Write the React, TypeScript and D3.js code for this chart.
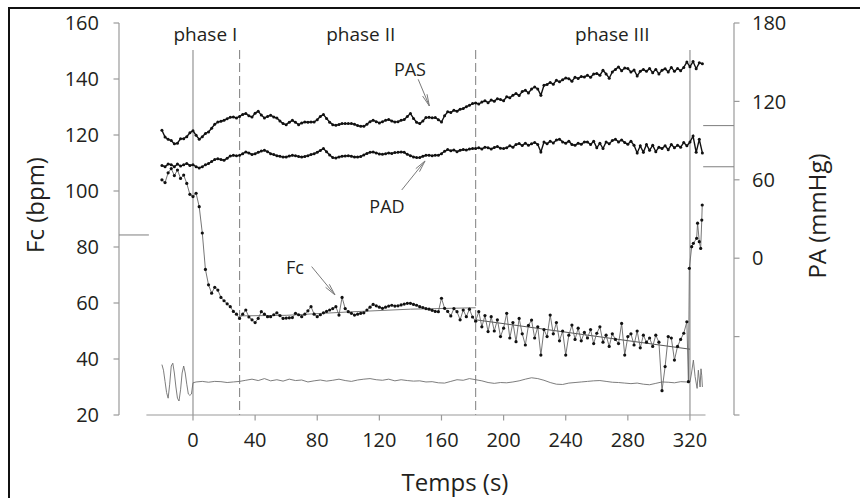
import React from 'react';
import * as d3 from 'd3';

// ---------- data ----------
const T_START = -20;
const T_STEP = 2;

// PAS (mmHg), sampled every 2 s from t = -20 s
const PAS = [
  97.9, 92.8, 91, 90, 87.5, 88, 91.5, 91.5, 93, 96,
  97.5, 94, 91, 93, 95.5, 96.6, 99.5, 102.5, 104.2, 104.8,
  105.5, 106.8, 107.8, 108, 107.3, 108.5, 110, 110.7, 109, 108,
  111, 112.4, 109.5, 107.3, 108.5, 109.4, 108, 107.3, 105, 103,
  102.2, 104, 105.5, 104, 102.2, 103.5, 104.2, 104, 104.2, 104.2,
  106, 108.5, 109.9, 107, 104, 102.2, 101.7, 102.3, 103, 103,
  103, 103, 102.5, 101.5, 101, 101, 102.5, 104.5, 105.5, 104.5,
  103.5, 104.5, 105.5, 106.1, 105, 104.2, 104.5, 105.5, 106.1, 108.5,
  110.7, 107, 104, 103, 105, 107.6, 107.8, 107.4, 107.6, 106,
  104.2, 109, 112, 111.5, 113.2, 112.5, 114, 114.5, 116, 117,
  118.3, 118.8, 118, 119.5, 120.5, 119, 121, 120.2, 122, 121.4,
  120.5, 123.5, 122.8, 124.7, 126, 124.5, 127.5, 128.5, 126.5, 129.5,
  131, 129.5, 124.7, 132.3, 133, 134.5, 133.2, 136.1, 135, 136.5,
  138, 137.4, 135.5, 138.5, 137.5, 139, 138.7, 140, 138.5, 141,
  141.3, 140, 143.8, 141, 137.7, 142.5, 144.5, 146.3, 143.5, 145.5,
  145.1, 142.5, 144, 139.5, 143, 144.5, 143, 145.1, 142, 144.5,
  141, 143.8, 145, 142.5, 146, 143, 145.1, 143.5, 146, 150.1,
  146.5, 150.5, 145, 149.5, 148.9,
];

// PAD (mmHg), sampled every 2 s from t = -20 s
const PAD = [
  71, 70, 72, 71.5, 70, 72, 70.5, 71.5, 72.5, 71,
  71.5, 70, 69, 70, 71.5, 72.4, 74, 75.5, 76.2, 75.5,
  74.9, 76.5, 78.2, 78.7, 78.5, 78.7, 80, 81.3, 80.5, 79.3,
  80, 81, 82, 82.6, 81.5, 80, 79.3, 78.5, 78, 77.4,
  77.5, 78.2, 78.7, 78.5, 77.8, 77.4, 77.8, 78.5, 79.3, 80,
  81, 82.5, 83.9, 81.5, 79, 77, 76.7, 77.5, 78, 78.2,
  78.5, 78, 77.5, 77.4, 77.8, 79, 80.2, 81, 81.3, 80.5,
  79.8, 79.5, 80, 80.5, 80.2, 80.8, 81, 81.3, 81, 79.5,
  78.5, 77.5, 77, 77, 78, 78.7, 78.8, 78.5, 78.8, 78.7,
  80, 81.8, 83.1, 82.2, 82.8, 81.5, 82.6, 83.2, 82.8, 83.5,
  84, 83.9, 84.5, 83.6, 85, 84.6, 83.5, 84.8, 85.5, 84.2,
  83.9, 84.5, 86, 85, 87, 87.7, 86.2, 88, 86.4, 87.5,
  88.6, 87, 81.3, 88.9, 87.5, 89.5, 88.2, 90.5, 91, 89,
  88, 89.5, 87, 86.4, 88, 87.2, 89, 88.9, 87, 89.5,
  84.5, 88, 83.9, 89, 87.5, 90, 91, 89, 90.5, 88.5,
  87.2, 89.5, 86.4, 80.5, 86, 81, 87, 82.6, 86.5, 81.5,
  85, 83.9, 86, 83, 87, 84.5, 86.4, 85, 88.5, 86,
  88.9, 93.5, 81, 91, 80.5,
];

// Fc (bpm), sampled every 2 s from t = -20 s to 318 s
const FC = [
  104, 103, 106.5, 108, 105.5, 107.5, 104.5, 105.7, 102.7, 98.8,
  98, 99.2, 94.4, 85, 72, 66.5, 63.5, 65.6, 64.6, 62,
  60.8, 59.7, 58.7, 57, 56, 54.5, 56, 57.5, 55, 54,
  53, 54.5, 56.9, 56, 55.1, 55.1, 55.8, 56.5, 55.5, 54.5,
  54.6, 54.7, 54.8, 56.3, 55.8, 55.1, 56, 57.2, 58.7, 56,
  55.1, 55.8, 56.5, 57, 57.5, 58, 58.7, 55.7, 62, 58,
  56.9, 56.3, 55.7, 56, 56.3, 56.5, 57.5, 58.5, 59.5, 59,
  58.5, 58.1, 58.5, 58.9, 59.2, 58.9, 59, 59.3, 59.6, 59.9,
  59.9, 59.5, 59.2, 58.7, 58.4, 58, 57.8, 57.4, 57, 56.9,
  61.7, 58.1, 57, 55.4, 58, 56.9, 54, 57.5, 55.1, 57.8,
  55, 53.5, 56.9, 51.5, 55.5, 49.8, 55.1, 50, 54, 48,
  51, 56.3, 47.5, 53, 46.2, 54.5, 49, 45, 52, 53.9,
  47.5, 51.5, 41.4, 50.5, 48, 55.7, 49, 53, 46.5, 50,
  41.4, 48.5, 52.1, 47, 51, 46.5, 49.5, 47.5, 50.5, 45.5,
  49.2, 51.5, 46, 48.5, 44.5, 49, 47, 45.5, 52.7, 41.4,
  48, 49, 45, 50, 44, 48.5, 46, 47.5, 44.5, 48.5,
  46, 28.7, 37.3, 48, 47.5, 39.6, 44.5, 47, 49.2, 53.3,
];
// Fc after the end of phase III (denser recording)
const FC_TAIL_T = [319, 319.6, 321.1, 322.2, 324.3, 324.9, 326, 326.9, 327.6, 327.9];
const FC_TAIL_V = [31.9, 72.4, 80.1, 81.3, 83.1, 88.5, 81.9, 79.5, 89.6, 95];

// Fc trend lines (phase II and phase III)
const TREND_II_T = [30, 60, 100, 140, 182];
const TREND_II_V = [55.4, 55.6, 56.8, 57.8, 58.3];
const TREND_III_T = [182, 320];
const TREND_III_V = [54, 43.5];

// Thin grey trace (plotted on the Fc scale)
const RESP_HEAD_START = -20;
const RESP_HEAD_STEP = 1;
const RESP_HEAD = [
  38, 36, 32, 28, 26, 31, 37.5, 38.5, 35, 30,
  26, 25, 29, 35, 37.5, 35, 31, 27.5, 27, 27.5, 31.5,
];
const RESP_MAIN_START = 2;
const RESP_MAIN_STEP = 4;
const RESP_MAIN = [
  31.8, 32, 31.7, 32, 31.9, 31.6, 31.8, 32, 32.4, 32.8,
  32.3, 33, 32.2, 32.6, 32.1, 32.8, 32.3, 32.5, 31.8, 32.2,
  32.5, 32.1, 32.4, 32.8, 32.3, 32, 32.5, 32.8, 33, 32.6,
  32.4, 32.8, 32.2, 32.6, 32.3, 32.1, 32.2, 31.8, 31.9, 31.5,
  31.4, 32, 32.6, 32.4, 33, 32.6, 32.2, 31.6, 31.3, 31.6,
  31.5, 31.8, 32.2, 32.8, 33.3, 33, 32.4, 31.6, 31, 30.9,
  31.4, 31.6, 31.8, 32, 32.2, 32.3, 32, 31.7, 31.6, 31.4,
  31.2, 31.4, 31, 30.8, 31.3, 31.8, 31.7, 31.5, 31.9, 31.8,
];
const RESP_TAIL_T = [320, 321, 322.2, 323.3, 324.6, 325.4, 326.5, 327.1, 327.6, 328];
const RESP_TAIL_V = [31.8, 35, 39.6, 33.7, 29.5, 36, 30, 36.5, 34, 30];

// Phase boundaries
const PHASE_SOLID = [0, 320];
const PHASE_DASHED = [30, 182];
const PHASE_LABELS = ['phase I', 'phase II', 'phase III'];
const PHASE_LABEL_T = [8, 108, 270];

// Reference levels
const FC_REF = 84.3;
const PA_REFS = [101.5, 70];

// Axes
const TIME_DOMAIN = [-30, 330];
const FC_DOMAIN = [20, 160];
const PA_DOMAIN = [-120, 180];
const TIME_TICKS = [0, 40, 80, 120, 160, 200, 240, 280, 320];
const FC_TICKS = [20, 40, 60, 80, 100, 120, 140, 160];
const PA_TICKS = [-120, -60, 0, 60, 120, 180];
const PA_TICK_LABELS = [0, 60, 120, 180];

// Annotations
const ANN_PAS = { label: 'PAS', t: 139.7, v: 139.4, ft: 145, fv: 136.9, tt: 152.2, tv: 116.5 };
const ANN_PAD = { label: 'PAD', t: 124.9, v: 34.6, ft: 134.4, fv: 52.2, tt: 149.4, tv: 74.4 };
const ANN_FC = { label: 'Fc', t: 65.7, v: 70.2, ft: 76.4, fv: 73, tt: 91.4, tv: 62.9 };

// ---------- helpers ----------
type P = [number, number];
const regular = (start: number, step: number, vals: number[]): P[] =>
  vals.map((v, i) => [start + i * step, v]);
const paired = (ts: number[], vs: number[]): P[] => ts.map((t, i) => [t, vs[i]]);

const FONT = "'Open Sans', 'Noto Sans', sans-serif";
const TEXT = '#231f20';
const AXIS = '#9a9a9a';

export default function App() {
  const W = 860;
  const H = 498;
  const x = d3.scaleLinear().domain(TIME_DOMAIN).range([146.4, 705.5]);
  const yFc = d3.scaleLinear().domain(FC_DOMAIN).range([415, 23]);
  const yPA = d3.scaleLinear().domain(PA_DOMAIN).range([415, 23]);
  const leftX = 119;
  const rightX = 734;
  const plotTop = 50;
  const plotBottom = 415;

  const pasPts = regular(T_START, T_STEP, PAS);
  const padPts = regular(T_START, T_STEP, PAD);
  const fcPts = regular(T_START, T_STEP, FC).concat(paired(FC_TAIL_T, FC_TAIL_V));
  const respPts = regular(RESP_HEAD_START, RESP_HEAD_STEP, RESP_HEAD)
    .concat(regular(RESP_MAIN_START, RESP_MAIN_STEP, RESP_MAIN))
    .concat(paired(RESP_TAIL_T, RESP_TAIL_V));

  const linePA = d3.line<P>().x((d) => x(d[0])).y((d) => yPA(d[1]));
  const lineFc = d3.line<P>().x((d) => x(d[0])).y((d) => yFc(d[1]));

  const arrow = (a: typeof ANN_PAS, ys: (v: number) => number) => {
    const x1 = x(a.ft), y1 = ys(a.fv), x2 = x(a.tt), y2 = ys(a.tv);
    const ang = Math.atan2(y2 - y1, x2 - x1);
    const len = 12;
    const spread = 0.2;
    const h1 = [x2 - len * Math.cos(ang - spread), y2 - len * Math.sin(ang - spread)];
    const h2 = [x2 - len * Math.cos(ang + spread), y2 - len * Math.sin(ang + spread)];
    return (
      <g stroke="#7a7a7a" strokeWidth={1} fill="none">
        <line x1={x1} y1={y1} x2={x2} y2={y2} />
        <polyline points={`${h1[0]},${h1[1]} ${x2},${y2} ${h2[0]},${h2[1]}`} />
        <text
          x={x(a.t)}
          y={ys(a.v)}
          textAnchor="middle"
          fontSize={18}
          fontFamily={FONT}
          fill={TEXT}
          stroke="none"
        >
          {a.label}
        </text>
      </g>
    );
  };

  return (
    <svg
      width={W}
      height={H}
      style={{ position: 'absolute', left: 0, top: 0, background: '#fff' }}
    >
      <rect x={0} y={0} width={W} height={H} fill="#fff" />
      {/* frame */}
      <rect x={9} y={8} width={860} height={500} fill="none" stroke="#111" strokeWidth={2} />

      {/* phase lines */}
      {PHASE_SOLID.map((t) => (
        <line key={'s' + t} x1={x(t)} x2={x(t)} y1={plotTop} y2={plotBottom} stroke="#8a8a8a" strokeWidth={1.1} />
      ))}
      {PHASE_DASHED.map((t) => (
        <line
          key={'d' + t}
          x1={x(t)}
          x2={x(t)}
          y1={plotTop}
          y2={plotBottom}
          stroke="#8a8a8a"
          strokeWidth={1.1}
          strokeDasharray="9,4"
        />
      ))}
      {PHASE_LABELS.map((l, i) => (
        <text
          key={l}
          x={x(PHASE_LABEL_T[i])}
          y={41}
          textAnchor="middle"
          fontSize={19}
          fontFamily={FONT}
          fill={TEXT}
        >
          {l}
        </text>
      ))}

      {/* left axis */}
      <line x1={leftX} x2={leftX} y1={yFc(FC_DOMAIN[0])} y2={yFc(FC_DOMAIN[1])} stroke={AXIS} strokeWidth={1.2} />
      {FC_TICKS.map((v) => (
        <g key={'fc' + v}>
          <line x1={leftX - 5.5} x2={leftX} y1={yFc(v)} y2={yFc(v)} stroke={AXIS} strokeWidth={1.2} />
          <text
            x={leftX - 20}
            y={yFc(v)}
            dy="0.36em"
            textAnchor="end"
            fontSize={20}
            fontFamily={FONT}
            fill={TEXT}
          >
            {v}
          </text>
        </g>
      ))}
      <line x1={leftX} x2={x(-28.4)} y1={yFc(FC_REF)} y2={yFc(FC_REF)} stroke="#8a8a8a" strokeWidth={1.1} />

      {/* right axis */}
      <line x1={rightX} x2={rightX} y1={yPA(PA_DOMAIN[0])} y2={yPA(PA_DOMAIN[1])} stroke={AXIS} strokeWidth={1.2} />
      {PA_TICKS.map((v) => (
        <line key={'pa' + v} x1={rightX} x2={rightX + 5.5} y1={yPA(v)} y2={yPA(v)} stroke={AXIS} strokeWidth={1.2} />
      ))}
      {PA_TICK_LABELS.map((v) => (
        <text
          key={'pal' + v}
          x={rightX + 18}
          y={yPA(v)}
          dy="0.36em"
          textAnchor="start"
          fontSize={20}
          fontFamily={FONT}
          fill={TEXT}
        >
          {v}
        </text>
      ))}
      {PA_REFS.map((v) => (
        <line key={'ref' + v} x1={x(328.5)} x2={rightX} y1={yPA(v)} y2={yPA(v)} stroke="#8a8a8a" strokeWidth={1.1} />
      ))}

      {/* bottom axis */}
      <line x1={x(TIME_DOMAIN[0])} x2={x(TIME_DOMAIN[1])} y1={plotBottom} y2={plotBottom} stroke={AXIS} strokeWidth={1.2} />
      {TIME_TICKS.map((t) => (
        <g key={'t' + t}>
          <line x1={x(t)} x2={x(t)} y1={plotBottom} y2={plotBottom + 5.5} stroke={AXIS} strokeWidth={1.2} />
          <text
            x={x(t)}
            y={plotBottom + 25}
            dy="0.36em"
            textAnchor="middle"
            fontSize={20}
            fontFamily={FONT}
            fill={TEXT}
          >
            {t}
          </text>
        </g>
      ))}

      {/* axis titles */}
      <text
        transform={`translate(34,205) rotate(-90)`}
        textAnchor="middle"
        dominantBaseline="central"
        fontSize={24}
        fontFamily={FONT}
        fill={TEXT}
      >
        Fc (bpm)
      </text>
      <text
        transform={`translate(816,216) rotate(-90)`}
        textAnchor="middle"
        dominantBaseline="central"
        fontSize={24}
        fontFamily={FONT}
        fill={TEXT}
      >
        PA (mmHg)
      </text>
      <text x={455} y={491} textAnchor="middle" fontSize={24} fontFamily={FONT} fill={TEXT}>
        Temps (s)
      </text>

      {/* grey trace */}
      <path d={lineFc(respPts) || ''} fill="none" stroke="#6e6e6e" strokeWidth={0.9} />

      {/* Fc trends */}
      <path d={lineFc(paired(TREND_II_T, TREND_II_V)) || ''} fill="none" stroke="#7a7a7a" strokeWidth={1} />
      <path d={lineFc(paired(TREND_III_T, TREND_III_V)) || ''} fill="none" stroke="#555" strokeWidth={1} />

      {/* Fc */}
      <path d={lineFc(fcPts) || ''} fill="none" stroke="#666" strokeWidth={0.9} />
      {fcPts.map((d, i) => (
        <circle key={'fcp' + i} cx={x(d[0])} cy={yFc(d[1])} r={1.6} fill="#111" />
      ))}

      {/* PAS / PAD */}
      {[pasPts, padPts].map((pts, k) => (
        <g key={'pa' + k}>
          <path d={linePA(pts) || ''} fill="none" stroke="#111" strokeWidth={1.4} />
          {pts.map((d, i) => (
            <circle key={i} cx={x(d[0])} cy={yPA(d[1])} r={1.5} fill="#111" />
          ))}
        </g>
      ))}

      {/* annotations */}
      {arrow(ANN_PAS, yPA)}
      {arrow(ANN_PAD, yPA)}
      {arrow(ANN_FC, yFc)}
    </svg>
  );
}
